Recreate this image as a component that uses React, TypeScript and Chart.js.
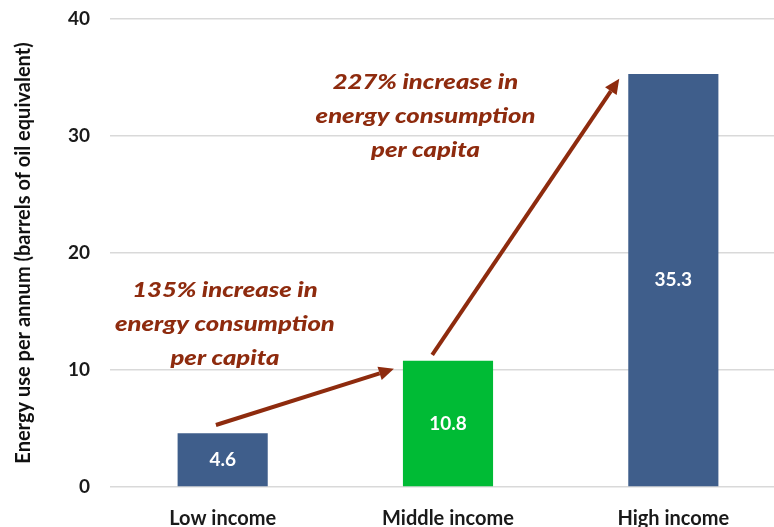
import React, { useEffect, useRef } from "react";
import { Chart, registerables } from "chart.js";

Chart.register(...registerables);

const categories = ["Low income", "Middle income", "High income"];
const values = [4.6, 10.8, 35.3];
const barColors = ["#3F5E8B", "#00BB35", "#3F5E8B"];
const yMin = 0;
const yMax = 40;
const yStep = 10;
const yTitle = "Energy use per annum (barrels of oil equivalent)";

const noteLines1 = ["135% increase in", "energy consumption", "per capita"];
const noteLines2 = ["227% increase in", "energy consumption", "per capita"];
// annotation anchors in data space: [category index, value]
const noteAnchor1 = [0.01, 16.8];
const noteAnchor2 = [0.9, 34.6];
const arrow1From = [-0.03, 5.3];
const arrow1To = [0.76, 10.1];
const arrow2From = [0.93, 11.3];
const arrow2To = [1.76, 34.9];

const FONT = "Lato, 'Open Sans', sans-serif";
const RED = "#8E2B0E";

function drawArrow(ctx: CanvasRenderingContext2D, x1: number, y1: number, x2: number, y2: number) {
  const ang = Math.atan2(y2 - y1, x2 - x1);
  const headLen = 15;
  const headW = 7;
  const bx = x2 - headLen * Math.cos(ang);
  const by = y2 - headLen * Math.sin(ang);
  ctx.save();
  ctx.strokeStyle = RED;
  ctx.fillStyle = RED;
  ctx.lineWidth = 4;
  ctx.lineCap = "butt";
  ctx.beginPath();
  ctx.moveTo(x1, y1);
  ctx.lineTo(bx, by);
  ctx.stroke();
  ctx.beginPath();
  ctx.moveTo(x2, y2);
  ctx.lineTo(bx + headW * Math.sin(ang), by - headW * Math.cos(ang));
  ctx.lineTo(bx - headW * Math.sin(ang), by + headW * Math.cos(ang));
  ctx.closePath();
  ctx.fill();
  ctx.restore();
}

const annotationPlugin = {
  id: "annotations",
  afterDatasetsDraw(chart: any) {
    const ctx = chart.ctx as CanvasRenderingContext2D;
    const xs = chart.scales.x;
    const ys = chart.scales.y;
    // data labels
    const meta = chart.getDatasetMeta(0);
    ctx.save();
    ctx.fillStyle = "#FFFFFF";
    ctx.font = `bold 19px ${FONT}`;
    ctx.textAlign = "center";
    ctx.textBaseline = "middle";
    meta.data.forEach((bar: any, i: number) => {
      const yc = (bar.y + bar.base) / 2;
      ctx.fillText(values[i].toFixed(1), bar.x, yc);
    });
    ctx.restore();

    // notes
    const drawNote = (lines: string[], anchor: number[]) => {
      const cx = xs.getPixelForValue(anchor[0]);
      const cy = ys.getPixelForValue(anchor[1]);
      ctx.save();
      ctx.fillStyle = RED;
      ctx.font = `italic 900 20px ${FONT}`;
      ctx.textAlign = "center";
      ctx.textBaseline = "middle";
      ctx.translate(cx, cy);
      ctx.scale(1.28, 1);
      lines.forEach((l, k) => ctx.fillText(l, 0, k * 34));
      ctx.restore();
    };
    drawNote(noteLines1, noteAnchor1);
    drawNote(noteLines2, noteAnchor2);

    drawArrow(
      ctx,
      xs.getPixelForValue(arrow1From[0]),
      ys.getPixelForValue(arrow1From[1]),
      xs.getPixelForValue(arrow1To[0]),
      ys.getPixelForValue(arrow1To[1])
    );
    drawArrow(
      ctx,
      xs.getPixelForValue(arrow2From[0]),
      ys.getPixelForValue(arrow2From[1]),
      xs.getPixelForValue(arrow2To[0]),
      ys.getPixelForValue(arrow2To[1])
    );
  },
};

export default function App() {
  const ref = useRef<HTMLCanvasElement | null>(null);
  useEffect(() => {
    if (!ref.current) return;
    const chart = new Chart(ref.current, {
      type: "bar",
      data: {
        labels: categories,
        datasets: [
          {
            data: values,
            backgroundColor: barColors,
            borderWidth: 0,
            barPercentage: 0.4,
            categoryPercentage: 1,
          },
        ],
      },
      options: {
        responsive: false,
        animation: false,
        devicePixelRatio: 1,
        layout: { padding: { top: 19, right: 0, left: 0, bottom: 0 } },
        plugins: {
          legend: { display: false },
          tooltip: { enabled: false },
        },
        scales: {
          x: {
            grid: { display: false },
            border: { display: false },
            ticks: {
              color: "#1A1A1A",
              font: { family: FONT, size: 20, weight: "bold" },
              padding: 12,
            },
            afterFit: (s: any) => {
              s.height = 40;
              s.paddingLeft = 0;
              s.paddingRight = 0;
            },
          },
          y: {
            min: yMin,
            max: yMax,
            grid: { color: "#D9D9D9", lineWidth: 1.5, drawTicks: false },
            border: { display: false },
            ticks: {
              stepSize: yStep,
              color: "#1A1A1A",
              padding: 20,
              font: { family: FONT, size: 19, weight: "bold" },
            },
            title: {
              display: true,
              text: yTitle,
              color: "#111111",
              font: { family: FONT, size: 20, weight: "bold" },
              padding: { top: 12, bottom: 0 },
            },
            afterFit: (s: any) => {
              s.width = 110;
              s.paddingTop = 0;
              s.paddingBottom = 0;
            },
          },
        },
      },
      plugins: [annotationPlugin],
    });
    return () => chart.destroy();
  }, []);
  return (
    <div
      style={{
        position: "absolute",
        left: 0,
        top: 0,
        width: 774,
        height: 527,
        overflow: "hidden",
        background: "#FFFFFF",
      }}
    >
      <canvas ref={ref} width={786} height={527} style={{ display: "block" }} />
    </div>
  );
}
